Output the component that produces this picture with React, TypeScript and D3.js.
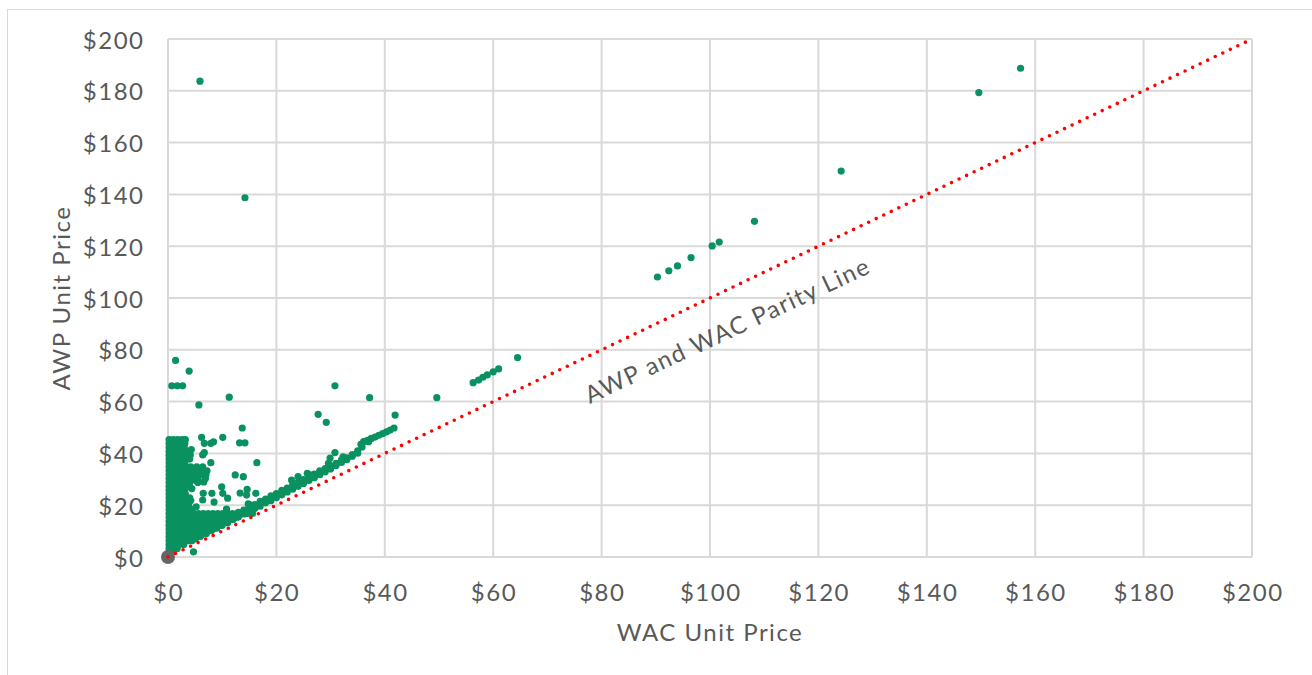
import React from "react";
import * as d3 from "d3";

const xTicks = [0, 20, 40, 60, 80, 100, 120, 140, 160, 180, 200];
const yTicks = [0, 20, 40, 60, 80, 100, 120, 140, 160, 180, 200];
const xTitle = "WAC Unit Price";
const yTitle = "AWP Unit Price";
const parityLabel = "AWP and WAC Parity Line";

// [WAC, AWP]
const outlierPoints: [number, number][] = [
  [5.9, 183.7], [14.2, 138.7], [149.6, 179.3], [157.3, 188.7], [124.2, 149.0],
  [108.2, 129.6], [101.7, 121.6], [100.4, 120.1], [96.5, 115.6], [94.0, 112.4],
  [92.4, 110.5], [90.3, 108.1], [64.5, 77.0], [61.0, 72.6], [60.0, 71.5],
  [58.9, 70.3], [58.1, 69.4], [57.3, 68.3], [56.3, 67.3], [49.6, 61.5],
  [37.2, 61.5], [30.8, 66.1], [27.7, 55.1], [29.2, 52.0], [41.9, 54.8],
  [1.4, 75.9], [3.9, 71.8], [0.7, 66.1], [1.7, 66.1], [2.7, 66.1],
  [5.7, 58.7], [11.3, 61.7], [13.7, 49.8],
];

const scatterPoints: [number, number][] = [
  [6.2, 46.2], [10.1, 46.2], [6.7, 43.9], [7.9, 43.9], [8.4, 44.5],
  [13.2, 44.1], [14.2, 44.1], [6.4, 39.4], [6.7, 40.3], [7.9, 36.4],
  [16.4, 36.4], [12.4, 31.7], [13.9, 31.0], [9.9, 27.1], [10.1, 24.6],
  [6.5, 24.6], [8.1, 24.6], [11.0, 22.7], [14.6, 26.1], [14.5, 23.9],
  [16.2, 24.6], [6.4, 22.0], [8.5, 21.2], [10.8, 18.5], [14.8, 20.5],
  [13.3, 24.7], [15.1, 20.1], [22.8, 29.7], [24.0, 31.0], [25.7, 32.3],
  [26.2, 31.7], [28.0, 33.3], [29.6, 36.2], [29.9, 38.2], [30.8, 40.3],
  [32.3, 38.7], [4.7, 2.0], [4.3, 41.5], [4.6, 32.4], [6.1, 32.0],
  [5.0, 29.6], [6.6, 29.0], [4.4, 26.4], [4.2, 21.8], [5.2, 19.4],
];

// dense column of points at very low WAC: AWP level -> WAC values
const columnAwp = [45.3, 43.8, 42.3, 40.8, 39.3, 37.8, 36.3, 34.8, 33.3, 31.8,
  30.3, 28.8, 27.3, 25.8, 24.3, 22.8, 21.3, 19.8, 18.3];
const columnWac: number[][] = [
  [0.2, 1.0, 1.8, 2.6, 3.2],
  [0.2, 1.0, 1.8, 2.6, 3.1],
  [0.2, 1.0, 1.8, 2.6, 3.0],
  [0.2, 1.0, 1.8, 2.6, 3.3, 3.9],
  [0.2, 1.0, 1.8, 2.6, 3.4, 4.1],
  [0.2, 1.0, 1.8, 2.6, 3.3, 4.0],
  [0.2, 1.0, 1.8, 2.6, 3.1],
  [0.2, 1.0, 1.8, 2.6, 3.4, 4.2, 5.3, 6.4],
  [0.2, 1.0, 1.8, 2.6, 3.3, 4.2, 5.3, 6.4, 7.2],
  [0.2, 1.0, 1.8, 2.6, 3.4, 4.6, 5.8, 7.0],
  [0.2, 1.0, 1.8, 2.6, 3.3, 4.0, 5.5, 6.9],
  [0.2, 1.0, 1.8, 2.6, 3.2, 4.0, 5.5],
  [0.2, 1.0, 1.8, 2.6, 3.2, 3.9],
  [0.2, 1.0, 1.8, 2.6, 3.1],
  [0.2, 1.0, 1.8, 2.6, 3.2],
  [0.2, 1.0, 1.8, 2.6, 3.3, 4.0],
  [0.2, 1.0, 1.8, 2.6, 3.2],
  [0.2, 1.0, 1.8, 2.6, 3.3, 3.8],
  [0.2, 1.0, 1.8, 2.6, 3.4, 4.5],
];

// dense fill between the column and the parity band: AWP level -> WAC values
const fillAwp = [16.8, 15.3, 13.8, 12.3, 10.8, 9.3, 7.8, 6.3, 4.8, 3.3, 1.8];
const fillWac: number[][] = [
  [0.2, 1.1, 2.0, 2.9, 3.8, 4.7, 5.6, 6.5, 7.4, 8.3, 9.2, 10.1, 11.0, 11.9, 12.8, 13.7, 14.6, 15.6],
  [0.2, 1.1, 2.0, 2.9, 3.8, 4.7, 5.6, 6.5, 7.4, 8.3, 9.2, 10.1, 11.0, 11.9, 12.6],
  [0.2, 1.1, 2.0, 2.9, 3.8, 4.7, 5.6, 6.5, 7.4, 8.3, 9.2, 10.1, 11.0],
  [0.2, 1.1, 2.0, 2.9, 3.8, 4.7, 5.6, 6.5, 7.4, 8.3, 9.2, 9.8],
  [0.2, 1.1, 2.0, 2.9, 3.8, 4.7, 5.6, 6.5, 7.4, 8.3],
  [0.2, 1.1, 2.0, 2.9, 3.8, 4.7, 5.6, 6.5, 7.1],
  [0.2, 1.1, 2.0, 2.9, 3.8, 4.7, 5.6],
  [0.2, 1.1, 2.0, 2.9, 3.8, 4.4],
  [0.2, 1.1, 2.0, 2.9],
  [0.2, 1.1, 1.7],
  [0.2, 0.6],
];

const bandPoints: [number, number][] = [
  [5, 7.0], [5, 8.4], [6, 8.0], [6, 9.6], [7, 9.0], [7, 10.8], [8, 10.2], [8, 11.6],
  [9, 11.1], [9, 12.9], [10, 12.3], [10, 13.8], [11, 13.2], [11, 15.0], [12, 14.5],
  [12, 16.0], [13, 15.4], [13, 17.2], [14, 16.6], [14, 18.1], [15, 17.5], [15, 19.3],
  [16, 18.7], [16, 20.2], [17, 19.6], [17, 21.5], [18, 20.9], [18, 22.4], [19, 21.8],
  [19, 23.6], [20, 22.9], [20, 24.5], [21, 24.0], [21, 25.7], [22, 25.1], [22, 26.6],
  [23, 26.2], [23, 27.8], [24, 27.3], [24, 28.7], [25, 28.4], [25, 29.9], [26, 29.5],
  [26, 30.8], [27, 30.6], [27, 32.0], [28, 31.8], [28, 32.9], [29, 32.9], [29, 34.1],
  [30, 34.0], [30, 35.2], [31, 35.3], [31, 36.2], [32, 36.5], [32, 37.4], [33, 37.6],
  [33, 38.3], [34, 38.9], [34, 39.5], [35, 40.1], [35, 41.0],
  [35.6, 43.5], [35.8, 42.5], [36.1, 44.6], [36.8, 45.0], [37.0, 44.5], [37.5, 45.8],
  [38.2, 46.3], [38.9, 47.0], [39.6, 47.6], [40.3, 48.3], [41.0, 49.0], [41.7, 49.8],
];

const originPoint: [number, number] = [0, 0];

const W = 1312;
const H = 675;
const plotLeft = 168;
const plotRight = 1252;
const plotTop = 39;
const plotBottom = 557;

const FONT = "Lato, 'Open Sans', sans-serif";
const FS = 24;
const LS = 1.5;
const TEXT = "#595959";
const GRID = "#d9d9d9";
const GREEN = "#0a9160";

export default function App() {
  const x = d3.scaleLinear().domain([0, 200]).range([plotLeft, plotRight]);
  const y = d3.scaleLinear().domain([0, 200]).range([plotBottom, plotTop]);
  const parity = d3
    .line<[number, number]>()
    .x((d) => x(d[0]))
    .y((d) => y(d[1]))([
    [0, 0],
    [200, 200],
  ]);

  const columnPoints: [number, number][] = columnAwp.flatMap((a, i) =>
    columnWac[i].map((w) => [w, a] as [number, number])
  );
  const fillPoints: [number, number][] = fillAwp.flatMap((a, i) =>
    fillWac[i].map((w) => [w, a] as [number, number])
  );

  const allGreen = [
    ...fillPoints,
    ...columnPoints,
    ...bandPoints,
    ...scatterPoints,
    ...outlierPoints,
  ];

  const textProps = {
    fontFamily: FONT,
    fontSize: FS,
    fill: TEXT,
    letterSpacing: LS,
  };

  return (
    <svg
      width={W}
      height={H}
      style={{ position: "absolute", left: 0, top: 0, background: "#fff" }}
    >
      <rect x={7.5} y={9.5} width={W + 20} height={H + 20} fill="#fff" stroke={GRID} strokeWidth={1} />
      {xTicks.map((t) => (
        <line key={"vx" + t} x1={x(t)} x2={x(t)} y1={plotTop} y2={plotBottom} stroke={GRID} strokeWidth={2} />
      ))}
      {yTicks.map((t) => (
        <line key={"hy" + t} x1={plotLeft} x2={plotRight} y1={y(t)} y2={y(t)} stroke={GRID} strokeWidth={2} />
      ))}
      {yTicks.map((t) => (
        <text key={"yl" + t} x={144.5} y={y(t)} textAnchor="end" dominantBaseline="central" {...textProps}>
          {"$" + t}
        </text>
      ))}
      {xTicks.map((t) => (
        <text key={"xl" + t} x={x(t) + LS / 2} y={601} textAnchor="middle" {...textProps}>
          {"$" + t}
        </text>
      ))}
      <text x={710} y={641} textAnchor="middle" {...textProps}>
        {xTitle}
      </text>
      <text transform={`translate(70,298) rotate(-90)`} textAnchor="middle" {...textProps}>
        {yTitle}
      </text>
      {allGreen.map((d, i) => (
        <circle key={"p" + i} cx={x(d[0])} cy={y(d[1])} r={3.6} fill={GREEN} />
      ))}
      <circle cx={x(originPoint[0])} cy={y(originPoint[1])} r={7} fill="#666666" />
      <path
        d={parity ?? ""}
        fill="none"
        stroke="#ff0000"
        strokeWidth={3.6}
        strokeLinecap="round"
        strokeDasharray="0 8.35"
      />
      <text transform={`translate(731,338) rotate(-25)`} textAnchor="middle" {...textProps}>
        {parityLabel}
      </text>
    </svg>
  );
}
